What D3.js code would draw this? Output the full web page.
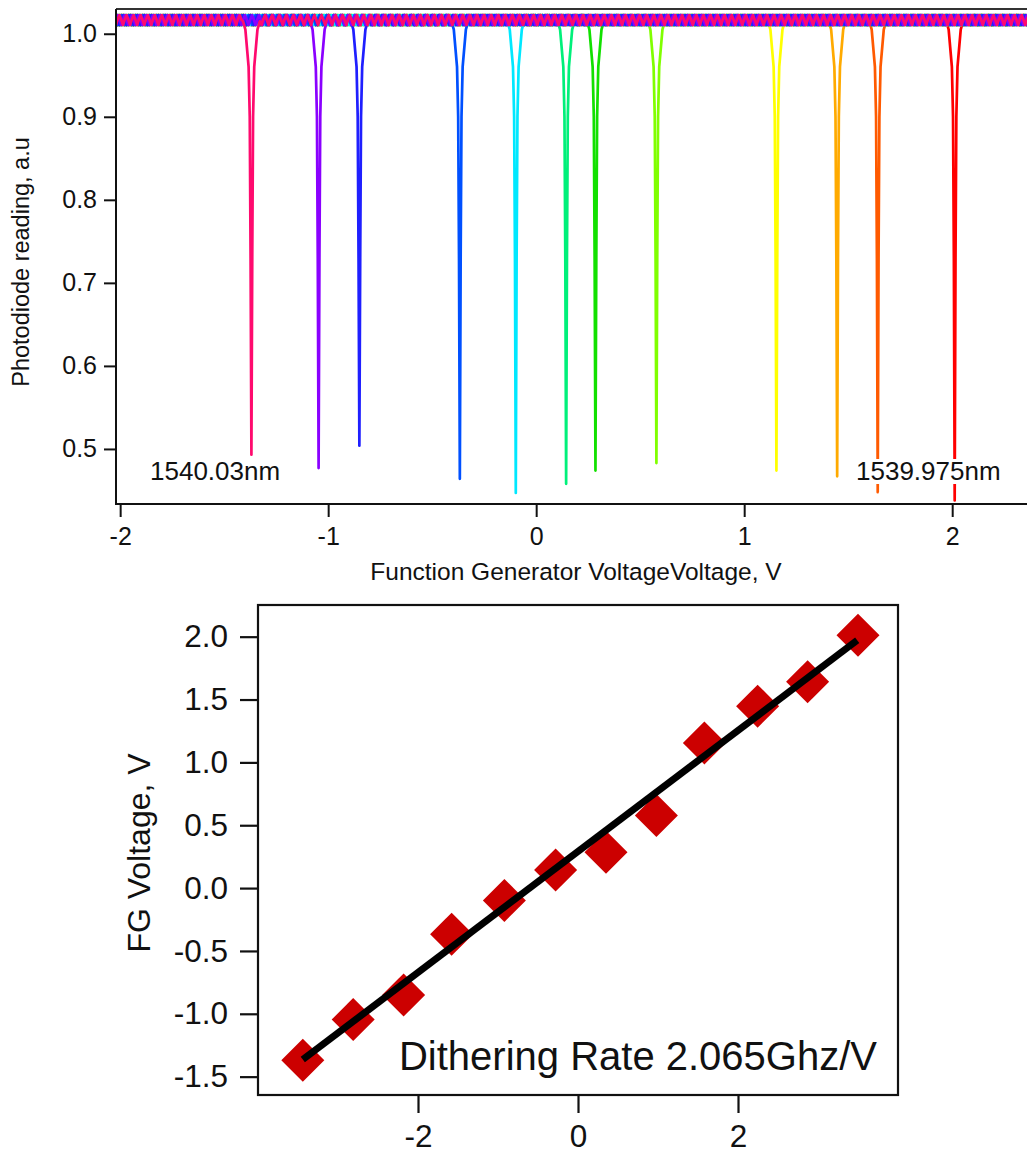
<!DOCTYPE html>
<html>
<head>
<meta charset="utf-8">
<script src="https://cdn.jsdelivr.net/npm/d3@7"></script>
<style>
  html, body { margin: 0; padding: 0; background: #fff; }
  svg { display: block; font-family: "Liberation Sans", Arial, sans-serif; }
</style>
</head>
<body>
<div id="chart"></div>
<script>
// --- top panel: photodiode transmission dips, one trace per laser wavelength ---
const dipVoltages = [-1.369, -1.046, -0.850, -0.367, -0.098, 0.144, 0.285, 0.578, 1.155, 1.447, 1.642, 2.012];
const dipMinima   = [0.493, 0.477, 0.504, 0.464, 0.447, 0.458, 0.474, 0.483, 0.474, 0.467, 0.448, 0.438];
const traceColors = ["#ff0a6e", "#8a00ff", "#1f1fff", "#0050ff", "#00e8ff", "#00f07a",
                     "#12e000", "#80ff00", "#ffff00", "#ffaa00", "#ff5a00", "#ff0000"];
// dip shape: offset from centre (V) and level
const dipOffsets = [-0.04, -0.029, -0.0135, -0.008, -0.004, 0.004, 0.008, 0.0135, 0.029, 0.04];
const dipLevels  = [1.015, 1.005, 0.96, 0.90, 0.73, 0.73, 0.90, 0.96, 1.005, 1.015];
// baseline ripple readings (repeat along the trace)
const rippleLevels = [1.0105, 1.0175, 1.0225, 1.0165];
const rippleStep = 0.0085;
const topXTicks = [-2, -1, 0, 1, 2];
const topYTicks = [0.5, 0.6, 0.7, 0.8, 0.9, 1.0];
const labelLeft = "1540.03nm";
const labelRight = "1539.975nm";

// --- bottom panel: FG voltage vs dither voltage ---
const ditherVoltages = [-3.44, -2.81, -2.18, -1.58, -0.92, -0.28, 0.35, 0.98, 1.58, 2.245, 2.87, 3.50];
const fgVoltages = dipVoltages;
const fitX = [-3.44, 3.49];
const fitY = [-1.364, 1.971];
const bottomXTicks = [-2, 0, 2];
const bottomYTicks = [-1.5, -1.0, -0.5, 0.0, 0.5, 1.0, 1.5, 2.0];
const rateText = "Dithering Rate 2.065Ghz/V";

const W = 1027, H = 1161;
const svg = d3.select("#chart").append("svg")
    .attr("width", W)
    .attr("height", H);

/* ---------------- top chart ---------------- */
const tx = d3.scaleLinear().domain([-2.02, 2.45]).range([116, 1045.8]);
const ty = d3.scaleLinear().domain([0.4337, 1.0298]).range([504, 9]);

svg.append("clipPath").attr("id", "topclip")
    .append("rect")
    .attr("x", tx.range()[0]).attr("y", ty.range()[1])
    .attr("width", tx.range()[1] - tx.range()[0])
    .attr("height", ty.range()[0] - ty.range()[1]);

const traces = dipVoltages.map((v, i) => {
    const pts = [];
    const lo = v + dipOffsets[0], hi = v + dipOffsets[dipOffsets.length - 1];
    let k = i;
    for (let x = tx.domain()[0]; x < lo; x += rippleStep, k++) {
        pts.push([x, rippleLevels[k % rippleLevels.length]]);
    }
    dipOffsets.forEach((o, j) => {
        if (j === dipOffsets.length / 2) pts.push([v, dipMinima[i]]);
        pts.push([v + o, dipLevels[j]]);
    });
    let x = hi + rippleStep;
    for (; x <= tx.domain()[1]; x += rippleStep, k++) {
        pts.push([x, rippleLevels[k % rippleLevels.length]]);
    }
    return {color: traceColors[i], pts};
});

const line = d3.line().x(d => tx(d[0])).y(d => ty(d[1]));

svg.append("g")
    .attr("clip-path", "url(#topclip)")
    .selectAll("path")
    .data(traces.slice().reverse())
    .join("path")
    .attr("fill", "none")
    .attr("stroke", d => d.color)
    .attr("stroke-width", 2.7)
    .attr("stroke-linejoin", "round")
    .attr("d", d => line(d.pts));

// annotation labels with white background
function boxedLabel(x, y, txt) {
    const g = svg.append("g");
    const t = g.append("text")
        .attr("x", x).attr("y", y)
        .attr("font-size", 26)
        .attr("fill", "#111")
        .text(txt);
    const b = t.node().getBBox();
    g.insert("rect", "text")
        .attr("x", b.x - 2).attr("y", b.y + 3)
        .attr("width", b.width + 4).attr("height", b.height - 5)
        .attr("fill", "#fff");
}
boxedLabel(150, 480, labelLeft);
boxedLabel(856, 480, labelRight);

// frame
svg.append("line")
    .attr("x1", tx.range()[0]).attr("x2", W)
    .attr("y1", 9).attr("y2", 9)
    .attr("stroke", "#333").attr("stroke-width", 2);
svg.append("line")
    .attr("x1", tx.range()[0]).attr("x2", W)
    .attr("y1", 504).attr("y2", 504)
    .attr("stroke", "#111").attr("stroke-width", 2);
svg.append("line")
    .attr("x1", tx.range()[0]).attr("x2", tx.range()[0])
    .attr("y1", 9).attr("y2", 505)
    .attr("stroke", "#111").attr("stroke-width", 2);

const topXAxis = svg.append("g")
    .attr("transform", "translate(0,504)")
    .call(d3.axisBottom(tx).tickValues(topXTicks).tickSize(13).tickPadding(10)
        .tickFormat(d => String(d)));
const topYAxis = svg.append("g")
    .attr("transform", `translate(${tx.range()[0]},0)`)
    .call(d3.axisLeft(ty).tickValues(topYTicks).tickSize(12).tickPadding(7)
        .tickFormat(d => d.toFixed(1)));
[topXAxis, topYAxis].forEach(a => {
    a.select(".domain").remove();
    a.selectAll(".tick line").attr("stroke", "#111").attr("stroke-width", 2);
    a.selectAll(".tick text").attr("fill", "#111").attr("font-size", 25)
        .attr("font-family", "'Liberation Sans', Arial, sans-serif");
});

svg.append("text")
    .attr("x", 576).attr("y", 580)
    .attr("text-anchor", "middle")
    .attr("font-size", 24.5)
    .attr("fill", "#111")
    .text("Function Generator VoltageVoltage, V");

svg.append("text")
    .attr("transform", "translate(29,262) rotate(-90)")
    .attr("text-anchor", "middle")
    .attr("font-size", 23.5)
    .attr("fill", "#111")
    .text("Photodiode reading, a.u");

/* ---------------- bottom chart ---------------- */
const bx = d3.scaleLinear().domain([-4, 4]).range([258, 898]);
const by = d3.scaleLinear().domain([-1.646, 2.252]).range([1095, 605]);

svg.append("rect")
    .attr("x", 258).attr("y", 605)
    .attr("width", 640).attr("height", 490)
    .attr("fill", "none")
    .attr("stroke", "#111")
    .attr("stroke-width", 2.2);

const diamond = d3.symbol(d3.symbolSquare, 925);
svg.append("g")
    .selectAll("path")
    .data(ditherVoltages.map((x, i) => [x, fgVoltages[i]]))
    .join("path")
    .attr("d", diamond)
    .attr("transform", d => `translate(${bx(d[0])},${by(d[1])}) rotate(45)`)
    .attr("fill", "#cc0000");

svg.append("path")
    .datum(fitX.map((x, i) => [x, fitY[i]]))
    .attr("fill", "none")
    .attr("stroke", "#000")
    .attr("stroke-width", 7)
    .attr("d", d3.line().x(d => bx(d[0])).y(d => by(d[1])));

svg.append("text")
    .attr("x", 877).attr("y", 1070)
    .attr("text-anchor", "end")
    .attr("font-size", 40)
    .attr("fill", "#111")
    .text(rateText);

const botXAxis = svg.append("g")
    .attr("transform", "translate(0,1096)")
    .call(d3.axisBottom(bx).tickValues(bottomXTicks).tickSize(17).tickPadding(12)
        .tickFormat(d => String(d)));
const botYAxis = svg.append("g")
    .attr("transform", "translate(257,0)")
    .call(d3.axisLeft(by).tickValues(bottomYTicks).tickSize(17).tickPadding(12)
        .tickFormat(d => d.toFixed(1)));
[botXAxis, botYAxis].forEach(a => {
    a.select(".domain").remove();
    a.selectAll(".tick line").attr("stroke", "#111").attr("stroke-width", 2.2);
    a.selectAll(".tick text").attr("fill", "#111").attr("font-size", 31.5)
        .attr("font-family", "'Liberation Sans', Arial, sans-serif");
});

svg.append("text")
    .attr("transform", "translate(150,853) rotate(-90)")
    .attr("text-anchor", "middle")
    .attr("font-size", 32)
    .attr("fill", "#111")
    .text("FG Voltage, V");
</script>
</body>
</html>
